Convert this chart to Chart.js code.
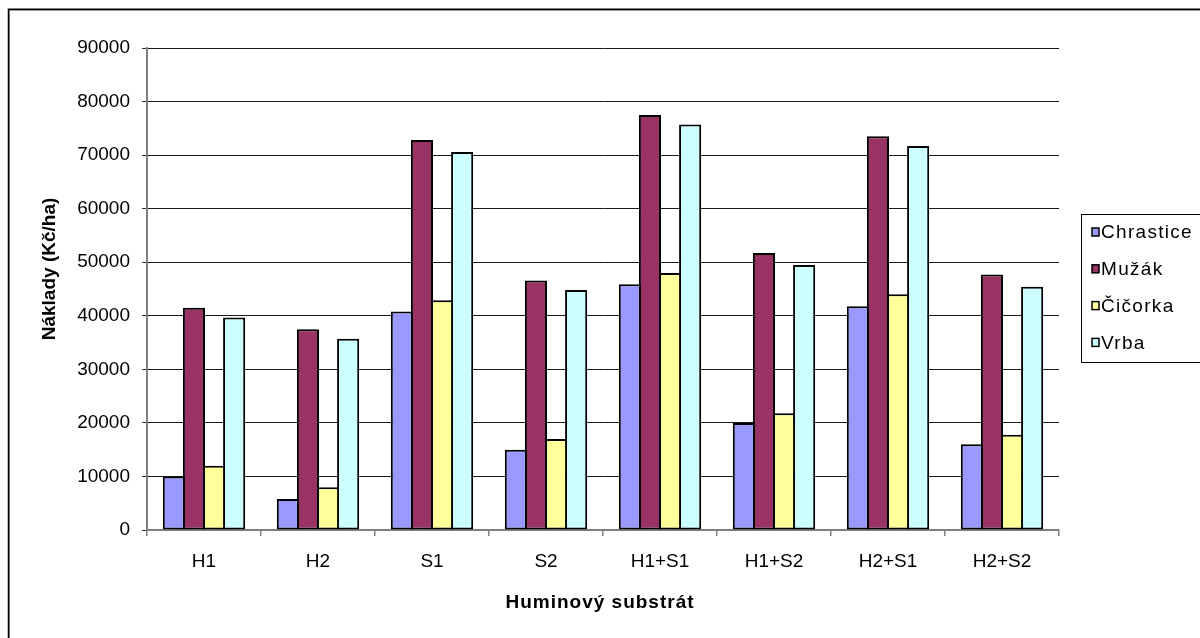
<!DOCTYPE html>
<html>
<head>
<meta charset="utf-8">
<script src="https://cdn.jsdelivr.net/npm/chart.js@4"></script>
<style>
  html, body { margin: 0; padding: 0; background: #fff; }
  #wrap { width: 1200px; height: 638px; position: relative; }
</style>
</head>
<body>
<div id="wrap"><canvas id="c" width="1200" height="638"></canvas></div>
<script>
// Substrate variants (x axis)
const categories = ['H1', 'H2', 'S1', 'S2', 'H1+S1', 'H1+S2', 'H2+S1', 'H2+S2'];

// Costs in Kč/ha per plant species
const chrastice = [10000, 5800, 40800, 15000, 45900, 20000, 41800, 16000];
const muzak     = [41500, 37500, 72800, 46600, 77500, 51700, 73500, 47700];
const cicorka   = [12000, 8000, 42900, 17000, 48000, 21800, 44000, 17800];
const vrba      = [39700, 35700, 70600, 44800, 75700, 49500, 71700, 45400];

const seriesNames = ['Chrastice', 'Mužák', 'Čičorka', 'Vrba'];
const yTicks = [0, 10000, 20000, 30000, 40000, 50000, 60000, 70000, 80000, 90000];

const xTitle = 'Huminový substrát';
const yTitle = 'Náklady (Kč/ha)';

const fills = ['#9999FF', '#993366', '#FFFF99', '#CCFFFF'];
const FONT = '"Liberation Sans", Arial, sans-serif';

// Outer frame, axis titles and the boxed legend on the right
const decor = {
  id: 'decor',
  beforeDraw(chart) {
    const ctx = chart.ctx;
    ctx.save();
    ctx.fillStyle = '#fff';
    ctx.fillRect(0, 0, chart.width, chart.height);
    ctx.strokeStyle = '#999';
    ctx.lineWidth = 1;
    ctx.strokeRect(9.5, 10.5, 1300, 700);
    ctx.strokeStyle = '#000';
    ctx.lineWidth = 1.5;
    ctx.strokeRect(8.5, 9.25, 1300, 700);
    ctx.restore();
  },
  afterDraw(chart) {
    const ctx = chart.ctx;
    const area = chart.chartArea;
    ctx.save();
    // axis titles
    ctx.fillStyle = '#000';
    ctx.textAlign = 'center';
    ctx.textBaseline = 'middle';
    ctx.font = 'bold 19px ' + FONT;
    ctx.letterSpacing = '1px';
    ctx.fillText(xTitle, (area.left + area.right) / 2 - 3, 603);
    ctx.letterSpacing = '0px';
    ctx.translate(50, 269);
    ctx.rotate(-Math.PI / 2);
    ctx.fillText(yTitle, 0, 0);
    ctx.restore();

    // legend
    ctx.save();
    ctx.strokeStyle = '#000';
    ctx.lineWidth = 1;
    ctx.strokeRect(1081.5, 214.5, 200, 148);
    ctx.font = '19px ' + FONT;
    ctx.letterSpacing = '1.3px';
    ctx.textBaseline = 'middle';
    ctx.textAlign = 'left';
    chart.data.datasets.forEach((ds, i) => {
      const y = 232 + i * 36.8;
      ctx.fillStyle = ds.backgroundColor;
      ctx.fillRect(1092, y - 4, 7, 8);
      ctx.strokeStyle = '#000';
      ctx.lineWidth = 1.5;
      ctx.strokeRect(1092, y - 4, 7, 8);
      ctx.fillStyle = '#000';
      ctx.fillText(ds.label, 1101, y + 1);
    });
    ctx.restore();
  }
};

// Bars overlap by one border width so neighbours share a single outline
const datasets = [chrastice, muzak, cicorka, vrba].map((vals, i) => ({
  label: seriesNames[i],
  data: vals,
  backgroundColor: fills[i],
  borderColor: '#000',
  borderWidth: 2,
  borderSkipped: false,
  barPercentage: 1.1,
  categoryPercentage: 0.705
}));

new Chart(document.getElementById('c'), {
  type: 'bar',
  data: { labels: categories, datasets },
  plugins: [decor],
  options: {
    responsive: false,
    animation: false,
    events: [],
    layout: { padding: { left: 0, right: 141, top: 48, bottom: 0 } },
    plugins: { legend: { display: false }, tooltip: { enabled: false } },
    scales: {
      x: {
        afterFit(scale) { scale.height = 108; },
        grid: {
          offset: true,
          drawOnChartArea: false,
          drawTicks: true,
          tickLength: 6,
          color: '#808080',
          lineWidth: 1.5
        },
        border: { color: '#808080', width: 2 },
        ticks: {
          color: '#000',
          font: { family: FONT, size: 19 },
          padding: 14,
          maxRotation: 0
        }
      },
      y: {
        min: 0,
        max: 90000,
        afterFit(scale) { scale.width = 147; },
        afterBuildTicks(scale) { scale.ticks = yTicks.map(v => ({ value: v })); },
        grid: {
          color: '#1a1a1a',
          lineWidth: 1,
          drawTicks: true,
          tickLength: 5,
          tickColor: '#333'
        },
        border: { color: '#808080', width: 2 },
        ticks: {
          color: '#000',
          font: { family: FONT, size: 19 },
          padding: 12,
          callback: v => String(v)
        }
      }
    }
  }
});
</script>
</body>
</html>
